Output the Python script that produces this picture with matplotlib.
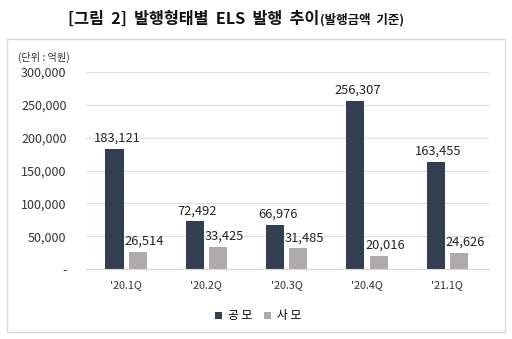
import matplotlib
matplotlib.use("Agg")
import matplotlib.pyplot as plt
from matplotlib.patches import Rectangle
import numpy as np

plt.rcParams['font.family'] = ['Noto Sans CJK KR', 'DejaVu Sans']

categories = ["'20.1Q", "'20.2Q", "'20.3Q", "'20.4Q", "'21.1Q"]
public = [183121, 72492, 66976, 256307, 163455]
private = [26514, 33425, 31485, 20016, 24626]
series_names = ["공모", "사모"]
yticks = [0, 50000, 100000, 150000, 200000, 250000, 300000]
ytick_labels = ["-", "50,000", "100,000", "150,000", "200,000", "250,000", "300,000"]

W, H = 512, 339
fig = plt.figure(figsize=(W / 100, H / 100), dpi=100)

# outer border
fig.patches.append(Rectangle((7 / W, 1 - 332 / H), (505 - 7) / W, (332 - 39) / H,
                             transform=fig.transFigure, fill=False,
                             edgecolor='#d9d9d9', linewidth=1.0))

left, right = 86 / W, 489 / W
bottom, top = 1 - 269 / H, 1 - 72 / H
ax = fig.add_axes([left, bottom, right - left, top - bottom])

x = np.arange(len(categories))
bw = 0.225
off = 0.145
c1, c2 = '#333f50', '#aeaaaa'
b1 = ax.bar(x - off, public, bw, color=c1, label=series_names[0])
b2 = ax.bar(x + off, private, bw, color=c2, label=series_names[1])

for xi, v in zip(x, public):
    ax.text(xi - off + 0.03, v + 6000, f"{v:,}", ha='center', va='bottom',
            fontsize=9.3, color='#222222')
for xi, v in zip(x, private):
    ax.text(xi + off + 0.08, v + 6000, f"{v:,}", ha='center', va='bottom',
            fontsize=9.3, color='#222222')

ax.set_xlim(-0.5, 4.52)
ax.set_ylim(0, 300000)
ax.set_yticks(yticks)
ax.set_yticklabels(ytick_labels, fontsize=9, color='#333333')
ax.set_xticks(x)
ax.set_xticklabels(categories, fontsize=7.8, color='#333333')
ax.tick_params(axis='both', length=0)
ax.tick_params(axis='y', pad=14)
ax.tick_params(axis='x', pad=8)
ax.grid(axis='y', color='#e0e0e0', linewidth=0.9)
ax.set_axisbelow(True)
for s in ['top', 'right', 'left']:
    ax.spines[s].set_visible(False)
ax.spines['bottom'].set_color('#d9d9d9')

fig.text(18 / W, 1 - 57 / H, "(단위 : 억원)", fontsize=7.3, color='#333333',
         ha='left', va='center')

# title
t1 = fig.text(68 / W, 1 - 19 / H, "[그림  2]  발행형태별  ELS  발행  추이", fontsize=11.7,
              fontweight='bold', ha='left', va='center', color='#111111')
fig.canvas.draw()
bb = t1.get_window_extent()
fig.text(bb.x1 / W + 0.001, 1 - 20 / H, "(발행금액  기준)", fontsize=9,
         fontweight='bold', ha='left', va='center', color='#111111')

leg = fig.legend(handles=[b1, b2], labels=["공 모", "사 모"], loc='center',
                 bbox_to_anchor=(258 / W, 1 - 316 / H), ncol=2, frameon=False,
                 fontsize=8.5, handlelength=0.6, handleheight=0.6, handletextpad=0.5,
                 columnspacing=1.0)

fig.savefig("out.png", dpi=100)
